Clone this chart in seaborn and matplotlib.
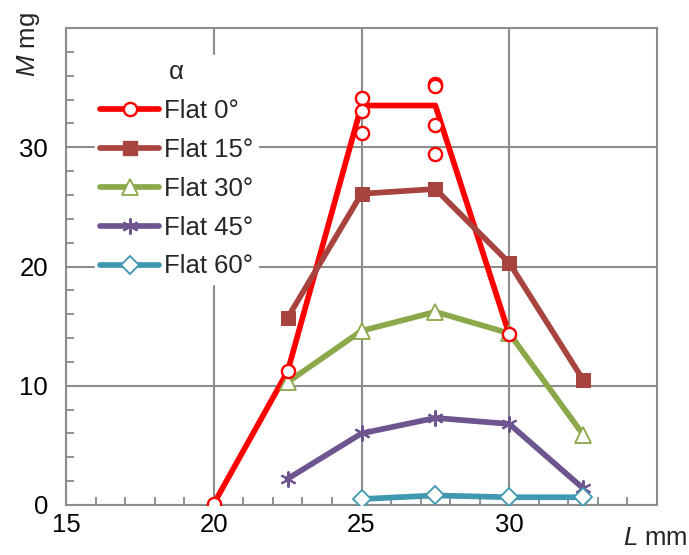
import matplotlib
matplotlib.use("Agg")
import matplotlib.pyplot as plt
from matplotlib.lines import Line2D
from matplotlib.ticker import MultipleLocator
import seaborn as sns
import pandas as pd

sns.set_theme(style="white")
plt.rcParams['font.family'] = ['Liberation Sans', 'DejaVu Sans']
plt.rcParams['mathtext.fontset'] = 'custom'
plt.rcParams['mathtext.it'] = 'Liberation Sans:italic'
plt.rcParams['mathtext.rm'] = 'Liberation Sans'

# ---- data ----
series_names = ["Flat 0°", "Flat 15°", "Flat 30°", "Flat 45°", "Flat 60°"]
x0 = [20, 22.5, 25, 27.5, 30]
y0 = [0.1, 11.2, 33.5, 33.5, 14.3]
x0_pts = [20, 22.5, 25, 25, 25, 27.5, 27.5, 27.5, 27.5, 30]
y0_pts = [0.1, 11.2, 34.1, 33.0, 31.2, 35.3, 35.1, 31.9, 29.4, 14.3]
x15 = [22.5, 25, 27.5, 30, 32.5]
y15 = [15.7, 26.1, 26.5, 20.3, 10.5]
x30 = [22.5, 25, 27.5, 30, 32.5]
y30 = [10.3, 14.6, 16.2, 14.4, 5.9]
x45 = [22.5, 25, 27.5, 30, 32.5]
y45 = [2.2, 6.0, 7.3, 6.8, 1.4]
x60 = [25, 27.5, 30, 32.5]
y60 = [0.5, 0.8, 0.65, 0.65]
x_ticks = [15, 20, 25, 30]
y_ticks = [0, 10, 20, 30]

colors = ["#FF0000", "#A8443F", "#8BA84A", "#6E5590", "#3F98B0"]

fig = plt.figure(figsize=(6.89, 5.55), dpi=100)
ax = fig.add_axes([66/689, 50/555, (657-66)/689, (505-28)/555])

lw = 4.1
fs = 18.5
sns.lineplot(x=x0, y=y0, ax=ax, color=colors[0], lw=lw, estimator=None, zorder=3)
sns.lineplot(x=x15, y=y15, ax=ax, color=colors[1], lw=lw, estimator=None, zorder=3,
             marker='s', markersize=9.5, markeredgecolor=colors[1], markerfacecolor=colors[1])
sns.lineplot(x=x30, y=y30, ax=ax, color=colors[2], lw=lw, estimator=None, zorder=3,
             marker='^', markersize=11.5, markeredgecolor=colors[2], markerfacecolor='white', markeredgewidth=1.3)
sns.lineplot(x=x45, y=y45, ax=ax, color=colors[3], lw=lw, estimator=None, zorder=3,
             marker=(6, 2, 0), markersize=11.5, markeredgecolor=colors[3], markeredgewidth=1.5)
sns.lineplot(x=x60, y=y60, ax=ax, color=colors[4], lw=lw, estimator=None, zorder=3,
             marker='D', markersize=9.5, markeredgecolor=colors[4], markerfacecolor='white', markeredgewidth=1.3)
ax.plot(x0_pts, y0_pts, ls='none', marker='o', markersize=9.5, markerfacecolor='white',
        markeredgecolor=colors[0], markeredgewidth=1.7, zorder=4)

ax.set_xlim(15, 35)
ax.set_ylim(0, 40)
ax.set_xticks(x_ticks)
ax.set_yticks(y_ticks)
ax.xaxis.set_minor_locator(MultipleLocator(1))
ax.yaxis.set_minor_locator(MultipleLocator(2))
ax.tick_params(which='major', length=0, labelsize=fs, colors='black', pad=6)
ax.tick_params(axis='y', which='major', pad=13)
ax.tick_params(which='minor', direction='in', length=6, width=1.3, color='#888888')
ax.tick_params(which='both', bottom=True, left=True)
ax.grid(True, which='major', color='#8C8C8C', lw=1.5)
ax.set_axisbelow(True)
for s in ax.spines.values():
    s.set_color('#8C8C8C')
    s.set_linewidth(1.5)

ax.set_xlabel('')
ax.set_ylabel('')
fig.text(655/689, 1 - 538/555, r'$\it{L}$ mm', fontsize=fs, ha='center', va='center')
fig.text(28/689, 1 - 45/555, r'$\it{M}$ mg', fontsize=fs, ha='center', va='center', rotation=90)

handles = [
    Line2D([], [], color=colors[0], lw=lw, marker='o', markersize=9.5, markerfacecolor='white',
           markeredgecolor=colors[0], markeredgewidth=1.7),
    Line2D([], [], color=colors[1], lw=lw, marker='s', markersize=9.5),
    Line2D([], [], color=colors[2], lw=lw, marker='^', markersize=11.5, markerfacecolor='white',
           markeredgecolor=colors[2], markeredgewidth=1.3),
    Line2D([], [], color=colors[3], lw=lw, marker=(6, 2, 0), markersize=11.5, markeredgewidth=1.5),
    Line2D([], [], color=colors[4], lw=lw, marker='D', markersize=9.5, markerfacecolor='white',
           markeredgecolor=colors[4], markeredgewidth=1.3),
]
leg = ax.legend(handles, series_names, title='α', loc='upper left',
                bbox_to_anchor=(16/591, 1 - 14/477), frameon=True, framealpha=1,
                edgecolor='white', facecolor='white', fontsize=fs, title_fontsize=fs,
                handlelength=2.3, handletextpad=0.2, labelspacing=0.58, borderpad=0.2,
                fancybox=False)
leg.set_zorder(5)

fig.savefig('out.png', dpi=100)
